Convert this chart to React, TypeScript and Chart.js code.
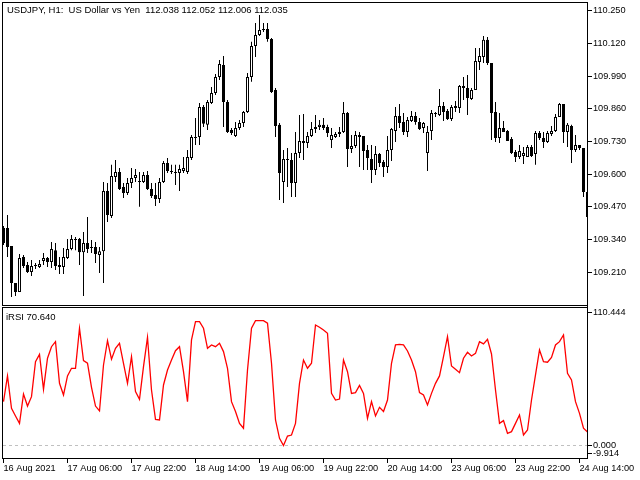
import { useEffect, useRef } from 'react';
import { Chart, registerables } from 'chart.js';

Chart.register(...registerables);

// ---- data (USDJPY H1 candles) ----
const openP = [
  109.386, 109.386, 109.314, 109.167, 109.132, 109.271, 109.239, 109.211, 109.235, 109.231,
  109.255, 109.267, 109.251, 109.298, 109.239, 109.231, 109.267, 109.302, 109.338, 109.342,
  109.290, 109.326, 109.310, 109.310, 109.279, 109.294, 109.533, 109.434, 109.589, 109.609,
  109.549, 109.525, 109.565, 109.585, 109.573, 109.569, 109.597, 109.541, 109.517, 109.501,
  109.569, 109.644, 109.613, 109.609, 109.605, 109.613, 109.609, 109.664, 109.748, 109.748,
  109.867, 109.796, 109.883, 109.923, 109.986, 110.034, 109.887, 109.776, 109.752, 109.784,
  109.803, 109.847, 109.986, 110.110, 110.153, 110.177, 110.177, 110.137, 109.935, 109.796,
  109.569, 109.660, 109.656, 109.565, 109.684, 109.732, 109.724, 109.752, 109.780, 109.788,
  109.796, 109.788, 109.736, 109.748, 109.760, 109.768, 109.843, 109.700, 109.712, 109.756,
  109.752, 109.696, 109.660, 109.617, 109.680, 109.648, 109.629, 109.696, 109.772, 109.831,
  109.807, 109.768, 109.811, 109.831, 109.807, 109.784, 109.684, 109.772, 109.839, 109.835,
  109.871, 109.851, 109.819, 109.871, 109.863, 109.951, 109.943, 109.899, 109.935, 110.046,
  110.066, 110.134, 110.042, 109.847, 109.744, 109.784, 109.772, 109.740, 109.688, 109.668,
  109.672, 109.668, 109.708, 109.680, 109.764, 109.744, 109.728, 109.760, 109.772, 109.827,
  109.879, 109.768, 109.792, 109.696, 109.716, 109.704, 109.529,
];
const highP = [
  109.394, 109.438, 109.314, 109.167, 109.283, 109.279, 109.251, 109.259, 109.247, 109.259,
  109.287, 109.271, 109.330, 109.326, 109.271, 109.306, 109.342, 109.358, 109.350, 109.346,
  109.370, 109.430, 109.338, 109.330, 109.310, 109.569, 109.565, 109.637, 109.656, 109.625,
  109.565, 109.585, 109.625, 109.621, 109.609, 109.609, 109.613, 109.565, 109.565, 109.585,
  109.652, 109.664, 109.637, 109.637, 109.637, 109.668, 109.696, 109.756, 109.823, 109.883,
  109.875, 109.895, 109.947, 109.998, 110.054, 110.070, 109.895, 109.784, 109.807, 109.815,
  109.851, 110.002, 110.126, 110.201, 110.233, 110.201, 110.201, 110.141, 109.943, 109.803,
  109.696, 109.704, 109.684, 109.768, 109.835, 109.839, 109.768, 109.807, 109.835, 109.815,
  109.823, 109.796, 109.784, 109.768, 109.788, 109.887, 109.847, 109.756, 109.772, 109.768,
  109.752, 109.716, 109.716, 109.712, 109.684, 109.656, 109.752, 109.784, 109.867, 109.879,
  109.843, 109.827, 109.851, 109.847, 109.823, 109.807, 109.792, 109.855, 109.847, 109.939,
  109.887, 109.859, 109.875, 109.891, 109.955, 109.986, 109.994, 109.943, 110.102, 110.102,
  110.149, 110.145, 110.042, 109.887, 109.843, 109.811, 109.776, 109.748, 109.696, 109.716,
  109.708, 109.716, 109.716, 109.772, 109.772, 109.768, 109.772, 109.792, 109.839, 109.883,
  109.879, 109.803, 109.796, 109.756, 109.716, 109.704, 109.748,
];
const lowP = [
  109.318, 109.271, 109.112, 109.116, 109.132, 109.227, 109.207, 109.195, 109.223, 109.227,
  109.239, 109.231, 109.227, 109.219, 109.203, 109.203, 109.263, 109.298, 109.298, 109.239,
  109.116, 109.287, 109.287, 109.247, 109.207, 109.167, 109.410, 109.426, 109.569, 109.537,
  109.505, 109.517, 109.545, 109.569, 109.470, 109.565, 109.537, 109.505, 109.473, 109.485,
  109.565, 109.605, 109.601, 109.557, 109.533, 109.605, 109.601, 109.656, 109.716, 109.716,
  109.788, 109.776, 109.879, 109.915, 109.974, 109.788, 109.764, 109.756, 109.748, 109.776,
  109.788, 109.843, 109.967, 110.066, 110.149, 110.165, 110.126, 109.923, 109.748, 109.497,
  109.485, 109.549, 109.509, 109.509, 109.664, 109.656, 109.704, 109.748, 109.764, 109.776,
  109.776, 109.748, 109.704, 109.744, 109.748, 109.764, 109.629, 109.684, 109.704, 109.629,
  109.617, 109.617, 109.565, 109.597, 109.629, 109.589, 109.605, 109.652, 109.728, 109.784,
  109.756, 109.748, 109.807, 109.796, 109.776, 109.764, 109.613, 109.736, 109.827, 109.831,
  109.811, 109.815, 109.811, 109.847, 109.843, 109.895, 109.835, 109.895, 109.935, 110.014,
  110.042, 110.034, 109.736, 109.728, 109.724, 109.768, 109.732, 109.680, 109.648, 109.660,
  109.640, 109.668, 109.668, 109.637, 109.736, 109.704, 109.724, 109.752, 109.768, 109.827,
  109.724, 109.708, 109.644, 109.688, 109.696, 109.509, 109.410,
];
const closeP = [
  109.326, 109.310, 109.167, 109.132, 109.267, 109.235, 109.211, 109.235, 109.239, 109.243,
  109.267, 109.251, 109.302, 109.235, 109.231, 109.271, 109.302, 109.342, 109.342, 109.290,
  109.326, 109.302, 109.306, 109.283, 109.294, 109.533, 109.438, 109.593, 109.609, 109.541,
  109.525, 109.565, 109.585, 109.597, 109.569, 109.597, 109.541, 109.513, 109.501, 109.569,
  109.644, 109.613, 109.609, 109.605, 109.621, 109.625, 109.668, 109.748, 109.744, 109.867,
  109.800, 109.887, 109.923, 109.986, 110.038, 109.887, 109.768, 109.764, 109.784, 109.803,
  109.847, 109.986, 110.110, 110.153, 110.173, 110.173, 110.137, 109.927, 109.792, 109.605,
  109.660, 109.656, 109.565, 109.684, 109.732, 109.724, 109.752, 109.780, 109.788, 109.796,
  109.784, 109.764, 109.756, 109.760, 109.768, 109.843, 109.700, 109.712, 109.756, 109.748,
  109.692, 109.664, 109.617, 109.680, 109.644, 109.629, 109.696, 109.780, 109.831, 109.803,
  109.768, 109.815, 109.831, 109.807, 109.780, 109.803, 109.768, 109.843, 109.843, 109.871,
  109.847, 109.819, 109.867, 109.863, 109.951, 109.943, 109.903, 109.935, 110.050, 110.070,
  110.134, 110.042, 109.843, 109.744, 109.784, 109.768, 109.732, 109.684, 109.668, 109.692,
  109.684, 109.708, 109.672, 109.764, 109.744, 109.728, 109.764, 109.772, 109.827, 109.879,
  109.768, 109.796, 109.696, 109.716, 109.704, 109.529, 109.430,
];
const rsiValues = [
  35.0, 55.5, 29.7, 23.6, 17.7, 41.1, 31.5, 39.0, 66.9, 72.7,
  44.8, 69.6, 78.8, 82.8, 49.6, 40.3, 55.5, 61.6, 61.6, 93.5,
  67.7, 65.6, 46.4, 31.5, 27.6, 64.2, 83.6, 68.8, 77.5, 81.5,
  65.6, 49.6, 70.9, 43.0, 36.9, 62.9, 86.3, 44.3, 20.9, 20.4,
  48.3, 60.2, 68.2, 75.6, 78.8, 58.9, 35.0, 84.2, 98.8, 98.8,
  93.5, 77.5, 80.2, 78.8, 81.5, 74.9, 61.6, 35.0, 27.1, 17.7,
  13.8, 60.2, 93.5, 99.6, 99.6, 99.6, 97.5, 65.6, 20.4, 5.8,
  0.0, 7.6, 8.4, 17.7, 49.6, 68.2, 61.6, 65.6, 96.1, 94.3,
  92.1, 89.5, 41.6, 36.3, 37.1, 68.2, 58.9, 41.6, 42.2, 48.0,
  41.6, 21.7, 35.0, 23.6, 30.5, 27.1, 36.3, 65.6, 80.2, 80.7,
  80.2, 75.4, 68.2, 58.9, 42.2, 40.3, 32.4, 41.6, 49.6, 55.5,
  70.9, 86.8, 63.4, 60.8, 58.1, 69.6, 74.3, 71.4, 73.5, 82.8,
  81.0, 84.7, 73.0, 44.3, 17.7, 19.9, 9.8, 11.1, 17.7, 24.4,
  8.4, 12.4, 36.3, 56.3, 76.2, 66.9, 66.4, 70.3, 80.2, 82.8,
  88.2, 57.6, 52.3, 35.0, 25.7, 13.8, 10.8,
];

const priceTicks = [110.25, 110.12, 109.99, 109.86, 109.73, 109.6, 109.47, 109.34, 109.21];
const xTickIndex = [0, 16, 32, 48, 64, 80, 96, 112, 128, 144];
const xTickLabels = [
  '16 Aug 2021', '17 Aug 06:00', '17 Aug 22:00', '18 Aug 14:00', '19 Aug 06:00',
  '19 Aug 22:00', '20 Aug 14:00', '23 Aug 06:00', '23 Aug 22:00', '24 Aug 14:00',
];
const rsiTickLabels = ['110.444', '0.000', '-9.914'];
const rsiTickAt = [105.9, 0, -6.2];

const TITLE = 'USDJPY, H1:  US Dollar vs Yen  112.038 112.052 112.006 112.035';
const RSI_LABEL = 'iRSI 70.640';

// ---- scale ranges / layout ----
const RSI_MIN = -9.914;
const RSI_MAX = 110.444;
const PRICE_MIN = 109.0719;
const PRICE_MAX = 110.2845;
const X_MIN = -0.375;
const X_MAX = 146.125;

const FONT = '"Liberation Sans", Arial, sans-serif';

const mtPlugin = {
  id: 'mtPanels',
  beforeDatasetsDraw(chart: any) {
    const { ctx, chartArea } = chart;
    const y2 = chart.scales.y2;
    const yz = Math.floor(y2.getPixelForValue(0)) + 0.5;
    ctx.save();
    ctx.strokeStyle = '#c0c0c0';
    ctx.lineWidth = 1;
    ctx.setLineDash([3, 3]);
    ctx.beginPath();
    ctx.moveTo(chartArea.left + 1, yz);
    ctx.lineTo(chartArea.right - 1, yz);
    ctx.stroke();
    ctx.restore();
  },
  afterDraw(chart: any) {
    const { ctx, chartArea } = chart;
    const y = chart.scales.y;
    const y2 = chart.scales.y2;
    const L = chartArea.left;
    const W = chartArea.right - chartArea.left - 1;
    ctx.save();
    ctx.strokeStyle = '#000';
    ctx.lineWidth = 1;
    ctx.setLineDash([]);
    ctx.strokeRect(L + 0.5, y.top + 0.5, W, y.bottom - y.top - 2);
    ctx.strokeRect(L + 0.5, y2.top + 0.5, W, y2.bottom - y2.top);
    ctx.beginPath();
    ctx.moveTo(chartArea.right - 0.5, y.top);
    ctx.lineTo(chartArea.right - 0.5, y2.bottom + 1);
    ctx.stroke();
    ctx.fillStyle = '#000';
    ctx.font = '9.5px ' + FONT;
    ctx.textBaseline = 'alphabetic';
    ctx.textAlign = 'left';
    ctx.fillText(TITLE, L + 5, y.top + 11);
    ctx.fillText(RSI_LABEL, L + 4, y2.top + 13);
    ctx.restore();
  },
};

export default function App() {
  const ref = useRef<HTMLCanvasElement>(null);

  useEffect(() => {
    const canvas = ref.current;
    if (!canvas) return;

    const idx = openP.map((_, i) => i);
    const bodies = idx.map((i) => ({ x: i, y: [openP[i], closeP[i]] }));
    const wicks = idx.map((i) => ({ x: i, y: [lowP[i], highP[i]] }));
    const bodyColors = idx.map((i) => (closeP[i] >= openP[i] ? '#ffffff' : '#000000'));
    const rsi = rsiValues.map((v, i) => ({ x: i, y: v }));

    const tickFont = { family: FONT, size: 9.2 };

    const chart = new Chart(canvas, {
      type: 'bar',
      data: {
        datasets: [
          {
            type: 'bar',
            label: 'body',
            data: bodies as any,
            yAxisID: 'y',
            grouped: false,
            barThickness: 3,
            minBarLength: 1,
            backgroundColor: bodyColors,
            borderColor: '#000000',
            borderWidth: 1,
            borderSkipped: false,
            inflateAmount: 0,
            order: 0,
          } as any,
          {
            type: 'bar',
            label: 'wick',
            data: wicks as any,
            yAxisID: 'y',
            grouped: false,
            barThickness: 1,
            backgroundColor: '#000000',
            borderWidth: 0,
            inflateAmount: 0,
            order: 1,
          } as any,
          {
            type: 'line',
            label: 'iRSI',
            data: rsi as any,
            yAxisID: 'y2',
            borderColor: '#ff0000',
            borderWidth: 1.3,
            pointRadius: 0,
            tension: 0,
            order: 2,
          } as any,
        ],
      },
      options: {
        responsive: false,
        devicePixelRatio: 1,
        animation: false,
        events: [],
        layout: { padding: { left: 2, top: 2, right: 0, bottom: 0 } },
        plugins: {
          legend: { display: false },
          tooltip: { enabled: false },
          title: { display: false },
        },
        scales: {
          x: {
            type: 'linear',
            position: 'bottom',
            offset: false,
            min: X_MIN,
            max: X_MAX,
            bounds: 'data',
            afterBuildTicks: (s: any) => {
              s.ticks = xTickIndex.map((v) => ({ value: v }));
            },
            afterFit: (s: any) => {
              s.height = 22;
              s.paddingLeft = 0;
              s.paddingRight = 0;
            },
            ticks: {
              autoSkip: false,
              maxRotation: 0,
              minRotation: 0,
              align: 'start',
              padding: 0,
              color: '#000',
              font: tickFont,
              callback: (_v: any, i: number) => xTickLabels[i],
            },
            grid: { offset: false, drawOnChartArea: false, drawTicks: true, tickLength: 5, color: '#000' },
            border: { display: false },
          },
          y: {
            type: 'linear',
            position: 'right',
            stack: 'panes',
            stackWeight: 305,
            min: PRICE_MIN,
            max: PRICE_MAX,
            bounds: 'data',
            afterBuildTicks: (s: any) => {
              s.ticks = priceTicks.map((v) => ({ value: v }));
            },
            afterFit: (s: any) => {
              s.width = 52;
              s.paddingTop = 0;
              s.paddingBottom = 0;
            },
            ticks: {
              padding: 1,
              color: '#000',
              font: tickFont,
              callback: (v: any) => Number(v).toFixed(3),
            },
            grid: { drawOnChartArea: false, drawTicks: true, tickLength: 4, color: '#000' },
            border: { display: false },
          },
          y2: {
            type: 'linear',
            position: 'right',
            stack: 'panes',
            stackWeight: 151,
            min: RSI_MIN,
            max: RSI_MAX,
            bounds: 'data',
            afterBuildTicks: (s: any) => {
              s.ticks = rsiTickAt.map((v) => ({ value: v }));
            },
            afterFit: (s: any) => {
              s.width = 52;
              s.paddingTop = 0;
              s.paddingBottom = 0;
            },
            ticks: {
              padding: 1,
              color: '#000',
              font: tickFont,
              callback: (_v: any, i: number) => rsiTickLabels[i],
            },
            grid: { drawOnChartArea: false, drawTicks: true, tickLength: 4, color: '#000' },
            border: { display: false },
          },
        },
      } as any,
      plugins: [mtPlugin],
    });

    return () => chart.destroy();
  }, []);

  return (
    <canvas
      ref={ref}
      width={640}
      height={480}
      style={{ position: 'fixed', left: 0, top: 0, width: 640, height: 480, display: 'block', background: '#fff' }}
    />
  );
}
